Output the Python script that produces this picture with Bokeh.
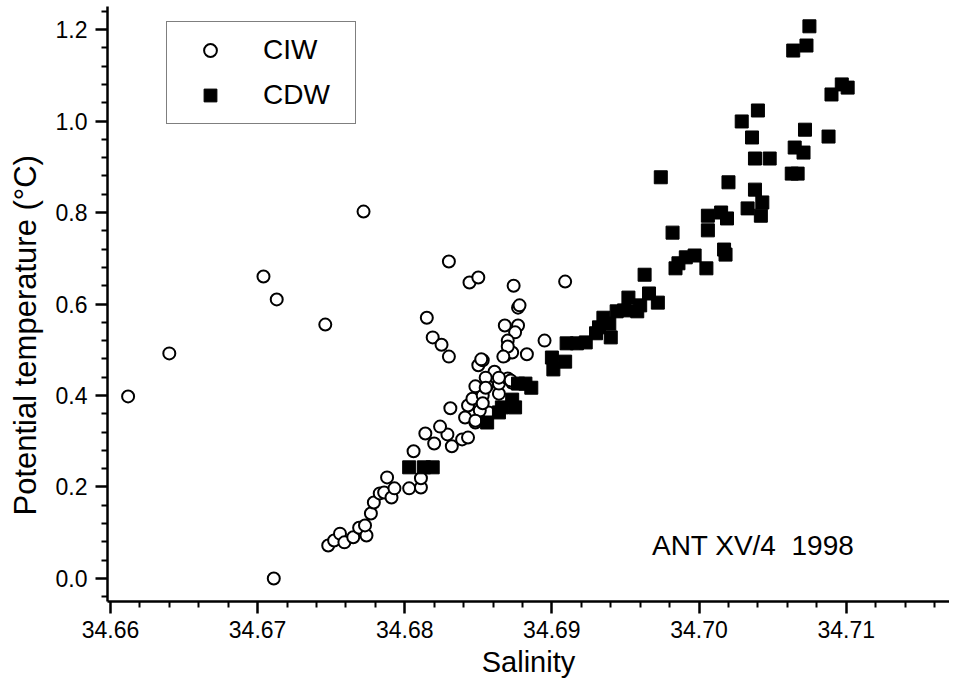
from bokeh.plotting import figure
from bokeh.models import (FixedTicker, PrintfTickFormatter, Legend, LegendItem,
                          Label, Range1d, Title)
from bokeh.embed import file_html
from bokeh.resources import INLINE

# ---------------- data ----------------
ciw_salinity = [34.6612, 34.6640, 34.6704, 34.6713, 34.6711, 34.6746, 34.6772,
                34.6748, 34.6752, 34.6756, 34.6759, 34.6765, 34.6769, 34.6774,
                34.6773, 34.6777, 34.6779, 34.6783, 34.6786, 34.6788, 34.6791,
                34.6793, 34.6803, 34.6811, 34.6811, 34.6806, 34.6820, 34.6832,
                34.6839, 34.6843, 34.6829, 34.6814, 34.6824, 34.6848, 34.6841,
                34.6857, 34.6851, 34.6831, 34.6843, 34.6846, 34.6853, 34.6864,
                34.6848, 34.6856, 34.6864, 34.6873, 34.6870, 34.6861, 34.6850,
                34.6853, 34.6868, 34.6873, 34.6883, 34.6855, 34.6855, 34.6853,
                34.6848, 34.6815, 34.6819, 34.6825, 34.6830, 34.6830, 34.6844,
                34.6850, 34.6874, 34.6909, 34.6877, 34.6878, 34.6868, 34.6877,
                34.6875, 34.6870, 34.6870, 34.6867, 34.6895, 34.6852, 34.6864,
                34.6872]
ciw_temp = [0.398, 0.492, 0.660, 0.610, 0.000, 0.555, 0.802,
            0.072, 0.083, 0.098, 0.079, 0.090, 0.111, 0.094,
            0.116, 0.142, 0.166, 0.186, 0.188, 0.221, 0.177,
            0.197, 0.197, 0.199, 0.219, 0.278, 0.295, 0.289,
            0.304, 0.308, 0.315, 0.317, 0.332, 0.341, 0.352,
            0.363, 0.367, 0.372, 0.378, 0.393, 0.400, 0.404,
            0.420, 0.422, 0.426, 0.428, 0.437, 0.452, 0.466,
            0.477, 0.487, 0.494, 0.490, 0.439, 0.417, 0.383,
            0.345, 0.570, 0.527, 0.511, 0.485, 0.693, 0.647,
            0.658, 0.640, 0.649, 0.592, 0.597, 0.553, 0.553,
            0.538, 0.520, 0.507, 0.485, 0.520, 0.479, 0.439,
            0.433]

cdw_salinity = [34.6803, 34.6813, 34.6819, 34.6856, 34.6864, 34.6866, 34.6875,
                34.6873, 34.6877, 34.6886, 34.6882, 34.6900, 34.6901, 34.6909,
                34.6910, 34.6917, 34.6923, 34.6930, 34.6932, 34.6935, 34.6939,
                34.6944, 34.6949, 34.6952, 34.6958, 34.6960, 34.6966, 34.6972,
                34.6940, 34.6963, 34.6974, 34.6982, 34.6984, 34.6986, 34.6991,
                34.6997, 34.7005, 34.7006, 34.7006, 34.7015, 34.7019, 34.7017,
                34.7018, 34.7020, 34.7033, 34.7043, 34.7042, 34.7038, 34.7038,
                34.7048, 34.7063, 34.7067, 34.7036, 34.7029, 34.7040, 34.7072,
                34.7065, 34.7071, 34.7088, 34.7064, 34.7073, 34.7075, 34.7090,
                34.7097, 34.7101]
cdw_temp = [0.243, 0.243, 0.243, 0.341, 0.363, 0.374, 0.374,
            0.391, 0.426, 0.417, 0.426, 0.483, 0.457, 0.474,
            0.514, 0.514, 0.516, 0.536, 0.549, 0.570, 0.557,
            0.584, 0.586, 0.614, 0.584, 0.597, 0.623, 0.603,
            0.527, 0.664, 0.877, 0.756, 0.678, 0.689, 0.702,
            0.706, 0.678, 0.793, 0.761, 0.800, 0.787, 0.719,
            0.708, 0.866, 0.809, 0.822, 0.793, 0.850, 0.918,
            0.918, 0.885, 0.885, 0.964, 0.999, 1.023, 0.981,
            0.942, 0.931, 0.966, 1.154, 1.165, 1.207, 1.058,
            1.080, 1.073]

x_ticks = [34.66, 34.67, 34.68, 34.69, 34.70, 34.71]
x_minor = [34.662, 34.664, 34.666, 34.668, 34.672, 34.674, 34.676, 34.678,
           34.682, 34.684, 34.686, 34.688, 34.692, 34.694, 34.696, 34.698,
           34.702, 34.704, 34.706, 34.708, 34.712, 34.714, 34.716]
y_ticks = [0.0, 0.2, 0.4, 0.6, 0.8, 1.0, 1.2]
y_minor = [-0.04, 0.04, 0.08, 0.12, 0.16, 0.24, 0.28, 0.32, 0.36, 0.44, 0.48,
           0.52, 0.56, 0.64, 0.68, 0.72, 0.76, 0.84, 0.88, 0.92, 0.96, 1.04,
           1.08, 1.12, 1.16, 1.24]

series_names = ["CIW", "CDW"]
x_title = "Salinity"
y_title = "Potential temperature (\u00b0C)"
note = "ANT XV/4 \u00a01998"

FONT = "Liberation Sans"

# ---------------- figure ----------------
p = figure(width=949, height=684, output_backend="svg", toolbar_location=None,
           x_range=Range1d(34.6598, 34.71702), y_range=Range1d(-0.0503, 1.2503),
           min_border_left=105, min_border_right=0, min_border_top=6,
           min_border_bottom=83, background_fill_color="white",
           border_fill_color="white")
p.grid.visible = False
p.outline_line_color = None

for ax, ticks, minor, fmt in ((p.xaxis, x_ticks, x_minor, "%.2f"),
                              (p.yaxis, y_ticks, y_minor, "%.1f")):
    ax.ticker = FixedTicker(ticks=ticks, minor_ticks=minor)
    ax.formatter = PrintfTickFormatter(format=fmt)
    ax.axis_line_color = "black"
    ax.axis_line_width = 2.5
    ax.major_tick_line_color = "black"
    ax.major_tick_line_width = 2.5
    ax.minor_tick_line_color = "black"
    ax.minor_tick_line_width = 2
    ax.major_tick_in = 0
    ax.major_tick_out = 12
    ax.minor_tick_in = 0
    ax.minor_tick_out = 6
    ax.major_label_text_font = FONT
    ax.major_label_text_font_size = "23px"
    ax.major_label_text_color = "black"
p.xaxis.major_label_standoff = 7
p.yaxis.major_label_standoff = 8

p.xaxis.axis_label = x_title
p.xaxis.axis_label_standoff = 5
p.xaxis.axis_label_text_font = FONT
p.xaxis.axis_label_text_font_size = "29px"
p.xaxis.axis_label_text_font_style = "normal"
p.xaxis.axis_label_text_color = "black"

ytitle = Title(text=y_title, align="left", offset=86, vertical_align="top",
               standoff=15, text_font=FONT, text_font_size="31px",
               text_font_style="normal", text_color="black")
p.add_layout(ytitle, "left")

r1 = p.scatter(ciw_salinity, ciw_temp, marker="circle", size=12,
               fill_color="white", line_color="black", line_width=2)
r2 = p.scatter(cdw_salinity, cdw_temp, marker="square", size=13,
               fill_color="black", line_color="black", line_width=1)

legend = Legend(items=[LegendItem(label=series_names[0], renderers=[r1]),
                       LegendItem(label=series_names[1], renderers=[r2])],
                location=(59, 477), orientation="vertical",
                border_line_color="black", border_line_width=1.5,
                background_fill_color="white", background_fill_alpha=1.0,
                padding=12, spacing=13, margin=0,
                glyph_width=62, glyph_height=32,
                label_height=32, label_width=80, label_standoff=22,
                label_text_font=FONT, label_text_font_size="28px",
                label_text_color="black")
p.add_layout(legend)

p.add_layout(Label(x=34.6968, y=0.072, text=note, text_font=FONT,
                   text_font_size="28px", text_color="black",
                   text_align="left", text_baseline="alphabetic"))

open("out.html", "w").write(file_html(p, INLINE))
